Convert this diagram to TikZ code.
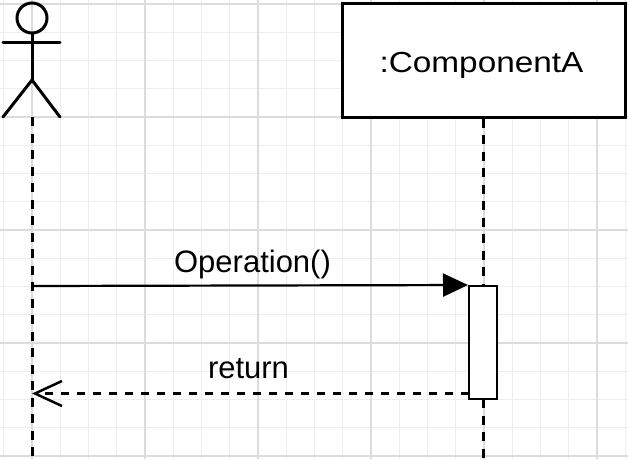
\documentclass[tikz,border=0pt]{standalone}
\usepackage{fontspec}
\setmainfont{Liberation Sans}
\usetikzlibrary{arrows.meta}
\definecolor{gridminor}{HTML}{EEEEEE}
\definecolor{gridmajor}{HTML}{DCDCDC}
\tikzset{
  minorline/.style={draw=gridminor, line width=1.2pt},
  majorline/.style={draw=gridmajor, line width=1.5pt},
  actorline/.style={line width=3pt, line cap=round},
  lifeline/.style={line width=3pt, dash pattern=on 9pt off 7.5pt},
  objbox/.style={draw, line width=3pt, fill=white, minimum width=283pt, minimum height=114pt, inner sep=0pt},
  actbox/.style={draw, line width=2pt, fill=white, minimum width=28pt, minimum height=113pt, inner sep=0pt},
  msgline/.style={line width=2.2pt, -{Triangle[length=25pt, width=23pt]}},
  retline/.style={line width=2.2pt, dash pattern=on 8pt off 8pt, -{Straight Barb[length=27pt, width=25pt, line width=2.5pt]}},
  lbl/.style={inner sep=0pt, anchor=base, font=\fontsize{31}{36}\selectfont}
}
\begin{document}
\begin{tikzpicture}[x=1pt, y=-1pt]
\useasboundingbox (0,0) rectangle (628,459);
\fill[white] (0,0) rectangle (628,459);
% grid
\foreach \i in {0,...,22} {
  \draw[minorline] ({3.75+28.25*\i},0) -- ({3.75+28.25*\i},459);
}
\foreach \j in {0,...,16} {
  \draw[minorline] (0,{4+28.25*\j}) -- (628,{4+28.25*\j});
}
\foreach \i in {0,...,5} {
  \draw[majorline] ({32+113*\i},0) -- ({32+113*\i},459);
}
\foreach \j in {0,...,4} {
  \draw[majorline] (0,{4+113*\j}) -- (628,{4+113*\j});
}
% actor
\node[circle, draw, line width=3pt, minimum size=30pt, inner sep=0pt] (head) at (32,18) {};
\coordinate (hip) at (32,80);
\coordinate (armL) at (3,42);
\coordinate (armR) at (60,42);
\coordinate (footL) at (3,117);
\coordinate (footR) at (60,117);
\coordinate (actorTop) at (32,117);
\coordinate (actorEnd) at (32,459);
\draw[actorline] (head.south) -- (hip);
\draw[actorline] (armL) -- (armR);
\draw[actorline] (footL) -- (hip) -- (footR);
% component
\node[objbox] (comp) at (483.5,60) {};
\node[lbl, font=\fontsize{29}{34}\selectfont] (compLabel) at (481.5,72) {\scalebox{1.15}[1]{:ComponentA}};
\coordinate (compEnd) at (483,459);
% lifelines
\draw[lifeline] (actorTop) -- (actorEnd);
\draw[lifeline] (comp.south -| compEnd) -- (compEnd);
% activation
\node[actbox] (act) at (483,342.5) {};
% messages
\coordinate (opStart) at (32,286);
\coordinate (retEnd) at (32,393.5);
\coordinate (retStart) at (469,393.5);
\draw[msgline] (opStart) -- (act.north west);
\draw[retline] (retStart) -- (retEnd);
\node[lbl] (opLabel) at (252.5,272) {Operation()};
\node[lbl] (retLabel) at (248.5,378) {return};
\end{tikzpicture}
\end{document}
